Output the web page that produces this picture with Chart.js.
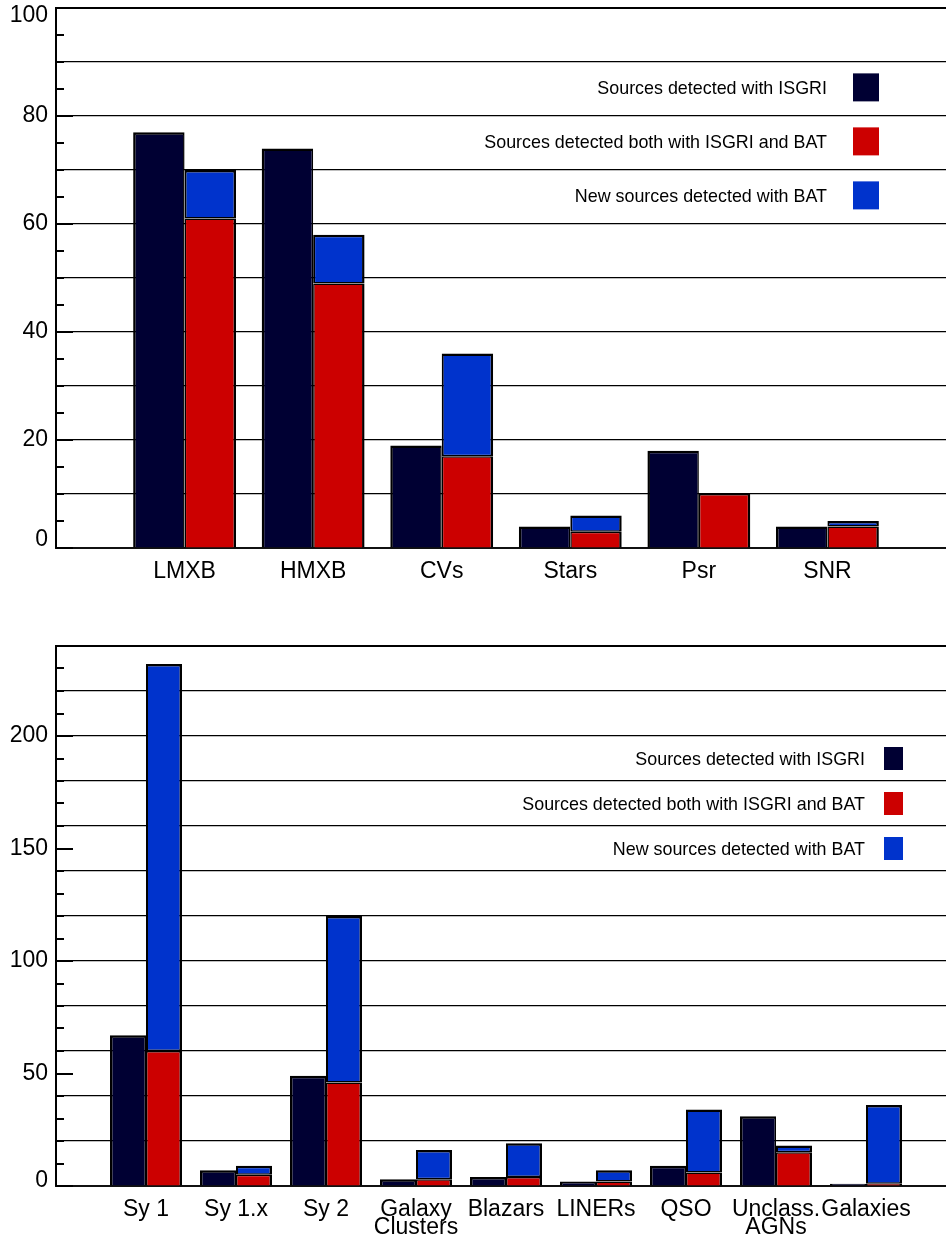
<!DOCTYPE html>
<html>
<head>
<meta charset="utf-8">
<script src="https://cdn.jsdelivr.net/npm/chart.js@4.4.1/dist/chart.umd.min.js"></script>
<style>
  html, body { margin: 0; padding: 0; background: #fff; }
  #page { position: relative; width: 946px; height: 1238px; overflow: hidden; }
  #page canvas { position: absolute; left: 0; }
</style>
</head>
<body>
<div id="page">
  <canvas id="galactic" width="960" height="600" style="top:0"></canvas>
  <canvas id="extragalactic" width="960" height="638" style="top:600px"></canvas>
</div>
<script>
// Series shared by both panels
const seriesLabels = [
  'Sources detected with ISGRI',
  'Sources detected both with ISGRI and BAT',
  'New sources detected with BAT'
];
const seriesColors = ['#000033', '#cc0000', '#0033cc'];

// Galactic source classes
const galacticClasses = ['LMXB', 'HMXB', 'CVs', 'Stars', 'Psr', 'SNR'];
const galacticIsgri   = [77, 74, 19, 4, 18, 4];
const galacticBoth    = [61, 49, 17, 3, 10, 4];
const galacticNewBat  = [9, 9, 19, 3, 0, 1];
const galacticTicks   = [0, 20, 40, 60, 80, 100];

// Extragalactic source classes
const agnClasses = ['Sy 1', 'Sy 1.x', 'Sy 2', ['Galaxy', 'Clusters'], 'Blazars',
                    'LINERs', 'QSO', ['Unclass.', 'AGNs'], 'Galaxies'];
const agnIsgri  = [67, 7, 49, 3, 4, 2, 9, 31, 1];
const agnBoth   = [60, 5, 46, 3, 4, 2, 6, 15, 1];
const agnNewBat = [172, 4, 74, 13, 15, 5, 28, 3, 35];
const agnTicks  = [0, 50, 100, 150, 200];

const FONT = '"Liberation Sans", Arial, Helvetica, sans-serif';

// empty slots on both sides so the first/last class sit one step in from the edges
function padded(arr) { return [null, ...arr, null]; }

// short tick marks drawn inward from the left axis
const innerTicks = {
  id: 'innerTicks',
  afterDraw(chart, args, opts) {
    const y = chart.scales.y, area = chart.chartArea, c = chart.ctx;
    c.save();
    c.strokeStyle = '#000';
    c.lineWidth = 2;
    y.ticks.forEach(t => {
      const py = Math.round(y.getPixelForValue(t.value));
      const len = opts.major.includes(t.value) ? 17 : 8;
      c.beginPath();
      c.moveTo(area.left, py);
      c.lineTo(area.left + len, py);
      c.stroke();
    });
    c.restore();
  }
};

// key placed inside the plot, text right-aligned with the swatch on its right
const sideLegend = {
  id: 'sideLegend',
  afterDraw(chart, args, o) {
    const c = chart.ctx, y = chart.scales.y, area = chart.chartArea;
    c.save();
    c.font = '17.9px ' + FONT;
    c.textAlign = 'right';
    c.textBaseline = 'middle';
    chart.data.datasets.forEach((ds, i) => {
      const cy = y.getPixelForValue(o.rows[i]);
      const bx = area.right - o.inset - o.box[0];
      c.fillStyle = ds.backgroundColor;
      c.fillRect(bx, cy - o.box[1] / 2, o.box[0], o.box[1]);
      c.fillStyle = '#000';
      c.fillText(ds.label, bx - o.gap, cy + 2);
    });
    c.restore();
  }
};

function buildChart(id, classes, isgri, both, newBat, opt) {
  const datasets = [
    { label: seriesLabels[0], data: padded(isgri), backgroundColor: seriesColors[0],
      stack: 'isgri', borderWidth: { top: 2.5, left: 2.5, right: 1.5, bottom: 0 } },
    { label: seriesLabels[1], data: padded(both), backgroundColor: seriesColors[1],
      stack: 'bat', borderWidth: { top: 1.5, left: 1.5, right: 2.5, bottom: 0 } },
    { label: seriesLabels[2], data: padded(newBat), backgroundColor: seriesColors[2],
      stack: 'bat', borderWidth: { top: 2.5, left: 2, right: 2.5, bottom: 1.5 } }
  ].map(d => Object.assign(d, {
    borderColor: '#000', borderSkipped: false, inflateAmount: 0,
    categoryPercentage: 0.8, barPercentage: 1
  }));

  return new Chart(document.getElementById(id), {
    type: 'bar',
    data: { labels: ['', ...classes, ''], datasets },
    options: {
      responsive: false,
      animation: false,
      devicePixelRatio: 1,
      layout: { padding: { top: opt.top, right: 4, left: 0, bottom: 0 } },
      plugins: {
        legend: { display: false },
        tooltip: { enabled: false },
        innerTicks: { major: opt.labelled },
        sideLegend: opt.legend
      },
      scales: {
        x: {
          offset: false,
          grid: { display: false, drawTicks: false },
          border: { display: true, color: '#111', width: 2 },
          ticks: {
            autoSkip: false, maxRotation: 0, minRotation: 0, padding: 15, color: '#000',
            font: { family: FONT, size: 23, lineHeight: '18px' }
          },
          afterFit(s) { s.height = 52; s.paddingLeft = 0; s.paddingRight = 0; }
        },
        y: {
          stacked: true,
          min: 0,
          max: opt.max,
          ticks: {
            stepSize: opt.step,
            autoSkip: false,
            padding: 8,
            color: '#000',
            font: ctx => {
              const v = ctx.tick ? ctx.tick.value : null;
              let lh = 1.2;
              if (v === 0) lh = (2 * opt.zeroShift) + 'px';
              else if (v === opt.max) lh = (2 * opt.topShift) + 'px';
              return { family: FONT, size: 23, lineHeight: lh };
            },
            callback: v => {
              if (!opt.labelled.includes(v)) return '';
              if (v === 0) return ['0', ''];
              if (v === opt.max) return ['', String(v)];
              return String(v);
            }
          },
          grid: {
            drawTicks: false,
            color: ctx => {
              const v = ctx.tick ? ctx.tick.value : 0;
              return (v !== 0 && v % opt.gridEvery === 0) ? '#000' : 'rgba(0,0,0,0)';
            },
            lineWidth: ctx => (ctx.tick && ctx.tick.value === opt.max) ? 2 : 1.2
          },
          border: { display: true, color: '#000', width: 2 },
          afterFit(s) { s.width = 56; s.paddingTop = 0; s.paddingBottom = 0; }
        }
      }
    },
    plugins: [innerTicks, sideLegend]
  });
}

buildChart('galactic', galacticClasses, galacticIsgri, galacticBoth, galacticNewBat, {
  top: 8, max: 100, step: 5, gridEvery: 10, labelled: galacticTicks,
  zeroShift: 8, topShift: 8,
  legend: { rows: [85.3, 75.3, 65.3], inset: 77, box: [26, 28], gap: 26 }
});

buildChart('extragalactic', agnClasses, agnIsgri, agnBoth, agnNewBat, {
  top: 46, max: 240, step: 10, gridEvery: 20, labelled: agnTicks,
  zeroShift: 5, topShift: 7,
  legend: { rows: [190, 170, 150], inset: 53, box: [19, 23], gap: 19 }
});
</script>
</body>
</html>
